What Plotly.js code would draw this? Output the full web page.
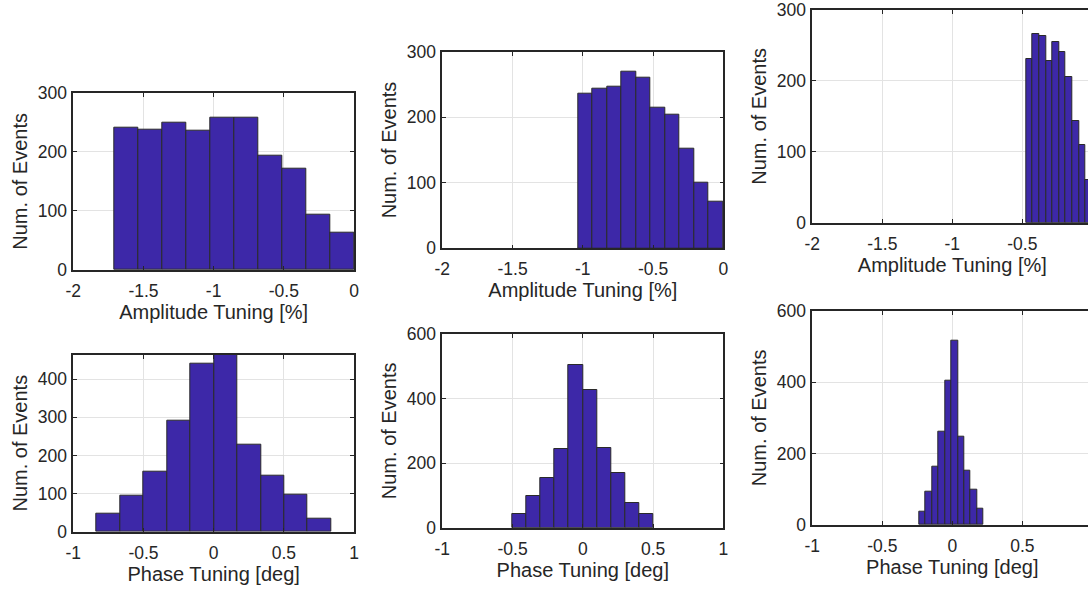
<!DOCTYPE html>
<html>
<head>
<meta charset="utf-8">
<script src="https://cdn.plot.ly/plotly-3.0.1.min.js"></script>
<style>
html,body{margin:0;padding:0;overflow:hidden;background:#fff;}
#chart{width:1094px;height:590px;}
</style>
</head>
<body>
<div id="chart"></div>
<script>
// ---- data ----
// Amplitude tuning histograms: bin range [lo, hi], counts per bin
var amp1Range = [-1.71, 0];
var amp1Counts = [241, 238, 250, 236, 258, 258, 193, 172, 94, 63];
var amp2Range = [-1.034, 0];
var amp2Counts = [236, 243, 247, 270, 260, 215, 204, 152, 100, 71];
var amp3Range = [-0.474, 0];
var amp3Counts = [231, 266, 263, 228, 255, 241, 205, 144, 109, 60];
// Phase tuning histograms
var ph1Range = [-0.835, 0.838];
var ph1Counts = [47, 95, 156, 290, 440, 464, 228, 146, 97, 34];
var ph2Range = [-0.502, 0.503];
var ph2Counts = [44, 98, 153, 244, 505, 427, 248, 168, 77, 43];
var ph3Range = [-0.236, 0.224];
var ph3Counts = [36, 92, 164, 261, 404, 515, 246, 152, 98, 46];

var ampTicks = [-2, -1.5, -1, -0.5, 0];
var ampTickText = ['-2', '-1.5', '-1', '-0.5', '0'];
var phTicks = [-1, -0.5, 0, 0.5, 1];
var phTickText = ['-1', '-0.5', '0', '0.5', '1'];
var yTicks300 = [0, 100, 200, 300];
var yTicks400 = [0, 100, 200, 300, 400];
var yTicks600 = [0, 200, 400, 600];

var xTitleAmp = 'Amplitude Tuning [%]';
var xTitlePh = 'Phase Tuning [deg]';
var yTitle = 'Num. of Events';

// ---- helpers ----
var W = 1094, H = 590;
var txtColor = '#262626';
var barColor = '#3d28a8';
var fam = 'Liberation Sans, Arial, sans-serif';

function histTrace(range, counts, xa, ya) {
  var n = counts.length, w = (range[1] - range[0]) / n;
  var xs = [], ws = [];
  for (var i = 0; i < n; i++) { xs.push(range[0] + (i + 0.5) * w); ws.push(w); }
  return {
    type: 'bar', x: xs, y: counts, width: ws, xaxis: xa, yaxis: ya,
    marker: {color: barColor, line: {color: '#2a2a2a', width: 1}},
    showlegend: false, hoverinfo: 'x+y'
  };
}

function pxDomX(a, b) { return [a / W, Math.min(1, b / W)]; }
function pxDomY(top, bot) { return [1 - bot / H, 1 - top / H]; }

function axisBase(extra) {
  var a = {
    showline: true, linecolor: txtColor, linewidth: 1.6, mirror: 'ticks',
    ticks: 'inside', ticklen: 4, tickwidth: 1.2, tickcolor: txtColor,
    showgrid: true, gridcolor: '#e3e3e3', gridwidth: 1, zeroline: false,
    tickfont: {family: fam, size: 17.5, color: txtColor},
    fixedrange: true
  };
  for (var k in extra) a[k] = extra[k];
  return a;
}

function xAx(dom, anchor, ticks, text, title, range) {
  return axisBase({domain: dom, anchor: anchor, range: range, tickmode: 'array',
    tickvals: ticks, ticktext: text, ticklabelstandoff: 4,
    title: {text: title, standoff: 3, font: {family: fam, size: 20, color: txtColor}}});
}
function yAx(dom, anchor, ticks, range) {
  return axisBase({domain: dom, anchor: anchor, range: range, tickmode: 'array',
    tickvals: ticks, ticktext: ticks.map(String), ticklabelstandoff: 1,
    title: {text: yTitle, standoff: 5, font: {family: fam, size: 20, color: txtColor}}});
}

var traces = [
  histTrace(amp1Range, amp1Counts, 'x', 'y'),
  histTrace(amp2Range, amp2Counts, 'x2', 'y2'),
  histTrace(amp3Range, amp3Counts, 'x3', 'y3'),
  histTrace(ph1Range, ph1Counts, 'x4', 'y4'),
  histTrace(ph2Range, ph2Counts, 'x5', 'y5'),
  histTrace(ph3Range, ph3Counts, 'x6', 'y6')
];

var c1 = pxDomX(73.3, 354), c2 = pxDomX(442.3, 723.3), c3 = pxDomX(812.3, 1092.3);

var layout = {
  width: W, height: H,
  margin: {l: 0, r: 0, t: 0, b: 0},
  paper_bgcolor: '#ffffff', plot_bgcolor: '#ffffff',
  bargap: 0,
  font: {family: fam, color: txtColor},
  xaxis:  xAx(c1, 'y',  ampTicks, ampTickText, xTitleAmp, [-2, 0]),
  yaxis:  yAx(pxDomY(92.7, 270), 'x', yTicks300, [0, 300]),
  xaxis2: xAx(c2, 'y2', ampTicks, ampTickText, xTitleAmp, [-2, 0]),
  yaxis2: yAx(pxDomY(51.7, 248.3), 'x2', yTicks300, [0, 300]),
  xaxis3: xAx(c3, 'y3', ampTicks, ampTickText, xTitleAmp, [-2, 0]),
  yaxis3: yAx(pxDomY(10, 222.7), 'x3', yTicks300, [0, 300]),
  xaxis4: xAx(c1, 'y4', phTicks, phTickText, xTitlePh, [-1, 1]),
  yaxis4: yAx(pxDomY(354.7, 531.7), 'x4', yTicks400, [0, 464]),
  xaxis5: xAx(c2, 'y5', phTicks, phTickText, xTitlePh, [-1, 1]),
  yaxis5: yAx(pxDomY(334, 527.7), 'x5', yTicks600, [0, 600]),
  xaxis6: xAx(c3, 'y6', phTicks, phTickText, xTitlePh, [-1, 1]),
  yaxis6: yAx(pxDomY(310.7, 525), 'x6', yTicks600, [0, 600])
};

Plotly.newPlot('chart', traces, layout, {displayModeBar: false});
</script>
</body>
</html>
